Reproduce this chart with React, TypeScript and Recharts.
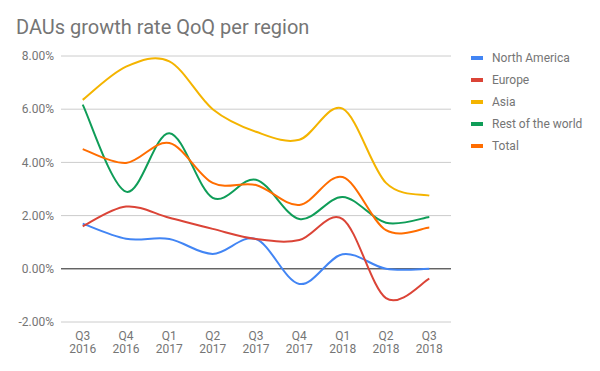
import React from 'react';
import { LineChart, Line, XAxis, YAxis, CartesianGrid, ReferenceLine } from 'recharts';

// Google-style palette
const colors = ['#4285F4', '#DB4437', '#F4B400', '#0F9D58', '#FF6D00'];
const textGray = '#757575';
const font = 'Roboto, Arial, sans-serif';

const quarters = ['Q3 2016', 'Q4 2016', 'Q1 2017', 'Q2 2017', 'Q3 2017', 'Q4 2017', 'Q1 2018', 'Q2 2018', 'Q3 2018'];
const seriesNames = ['North America', 'Europe', 'Asia', 'Rest of the world', 'Total'];

// QoQ growth in percent
const northAmerica = [1.7, 1.13, 1.12, 0.56, 1.12, -0.57, 0.55, 0.0, 0.0];
const europe = [1.6, 2.34, 1.92, 1.5, 1.12, 1.08, 1.87, -1.1, -0.37];
const asia = [6.35, 7.6, 7.8, 6.0, 5.15, 4.85, 6.02, 3.23, 2.75];
const restOfWorld = [6.17, 2.9, 5.1, 2.67, 3.35, 1.87, 2.7, 1.73, 1.95];
const total = [4.5, 3.98, 4.73, 3.23, 3.15, 2.4, 3.45, 1.45, 1.55];

const yTicks = [-2, 0, 2, 4, 6, 8];

const allSeries = [northAmerica, europe, asia, restOfWorld, total];

const data = quarters.map((q, i) => {
  const row: Record<string, string | number> = { name: q };
  seriesNames.forEach((s, j) => {
    row[s] = allSeries[j][i];
  });
  return row;
});

// Catmull-Rom style smoothing, closer to Google's "function" curve than a natural spline
const smoothCurve = (context: any) => {
  let pts: number[][] = [];
  return {
    areaStart() {},
    areaEnd() {},
    lineStart() {
      pts = [];
    },
    point(x: number, y: number) {
      pts.push([+x, +y]);
    },
    lineEnd() {
      if (!pts.length) return;
      context.moveTo(pts[0][0], pts[0][1]);
      for (let i = 0; i < pts.length - 1; i++) {
        const p0 = pts[i - 1] || pts[i];
        const p1 = pts[i];
        const p2 = pts[i + 1];
        const p3 = pts[i + 2] || pts[i + 1];
        context.bezierCurveTo(
          p1[0] + (p2[0] - p0[0]) / 6,
          p1[1] + (p2[1] - p0[1]) / 6,
          p2[0] - (p3[0] - p1[0]) / 6,
          p2[1] - (p3[1] - p1[1]) / 6,
          p2[0],
          p2[1],
        );
      }
    },
  };
};

const QuarterTick = (props: any) => {
  const { x, y, payload } = props;
  const [q, yr] = String(payload.value).split(' ');
  return (
    <text x={x} y={y} textAnchor="middle" fill={textGray} fontSize={12} fontFamily={font}>
      <tspan x={x} dy={16}>{q}</tspan>
      <tspan x={x} dy={13}>{yr}</tspan>
    </text>
  );
};

export default function App() {
  return (
    <div style={{ position: 'absolute', left: 0, top: 0, width: 600, height: 371, background: '#fff', fontFamily: font }}>
      <div style={{ position: 'absolute', left: 16, top: 15, fontSize: 20, color: textGray, whiteSpace: 'nowrap' }}>
        DAUs growth rate QoQ per region
      </div>
      <LineChart width={600} height={371} data={data} margin={{ top: 56, right: 149, left: 0, bottom: 9 }}>
        <CartesianGrid vertical={false} stroke="#cccccc" />
        <XAxis
          dataKey="name"
          axisLine={false}
          tickLine={false}
          tickSize={0}
          tick={<QuarterTick />}
          interval={0}
          height={40}
          padding={{ left: 21.7, right: 21.7 }}
        />
        <YAxis
          width={61}
          domain={[-2, 8]}
          ticks={yTicks}
          axisLine={false}
          tickLine={false}
          tickSize={0}
          tickMargin={7}
          tickFormatter={(v: number) => `${v.toFixed(2)}%`}
          tick={{ fill: textGray, fontSize: 12, fontFamily: font }}
        />
        <ReferenceLine y={0} stroke="#333333" />
        {seriesNames.map((s, i) => (
          <Line
            key={s}
            type={smoothCurve as any}
            dataKey={s}
            stroke={colors[i]}
            strokeWidth={2}
            dot={false}
            isAnimationActive={false}
          />
        ))}
      </LineChart>
      <div style={{ position: 'absolute', left: 471, top: 47 }}>
        {seriesNames.map((s, i) => (
          <div key={s} style={{ display: 'flex', alignItems: 'center', height: 22, fontSize: 12, color: textGray }}>
            <span style={{ display: 'inline-block', width: 12, height: 4, background: colors[i], marginRight: 9 }} />
            {s}
          </div>
        ))}
      </div>
    </div>
  );
}
